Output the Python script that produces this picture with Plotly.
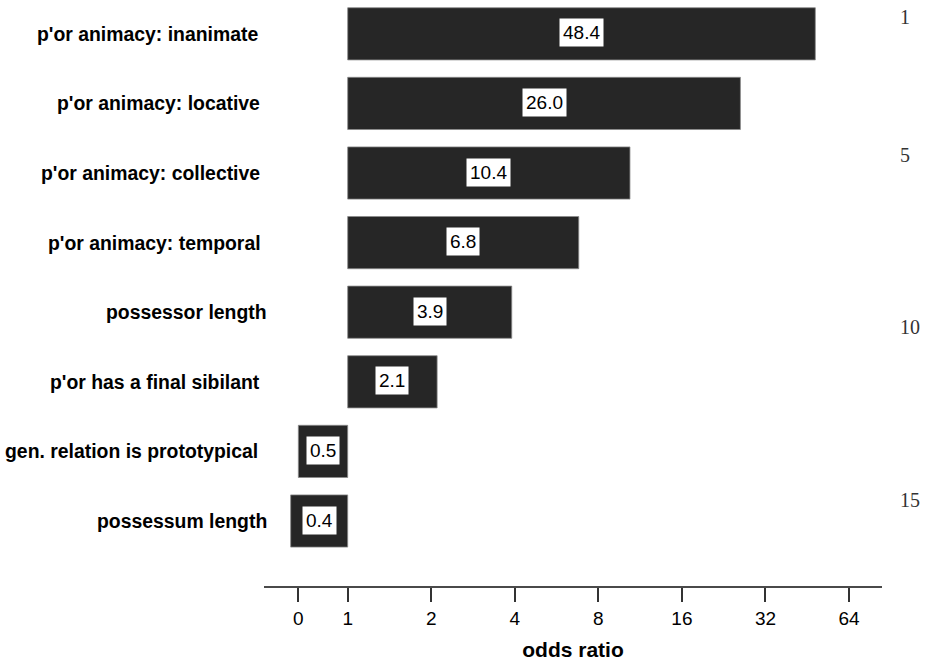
import numpy as np
import plotly.graph_objects as go

# ---- data ----
categories = [
    "p'or animacy: inanimate",
    "p'or animacy: locative",
    "p'or animacy: collective",
    "p'or animacy: temporal",
    "possessor length",
    "p'or has a final sibilant",
    "gen. relation is prototypical",
    "possessum length",
]
odds_ratio = [48.4, 26.0, 10.4, 6.8, 3.9, 2.1, 0.5, 0.4]          # printed values
bar_end_or = [48.4, 26.0, 10.4, 6.8, 3.9, 2.1, 0.664, 0.623]      # where bars end
tick_values = [0.664, 1, 2, 4, 8, 16, 32, 64]
tick_labels = ["0", "1", "2", "4", "8", "16", "32", "64"]
line_numbers = [1, 5, 10, 15]

# ---- style / layout ----
W, H = 928, 662
L, R, T, B = 264, 46, 0, 76
px_per_unit = 83.55
x_left = (264 - 347.7) / px_per_unit
x_right = x_left + (W - L - R) / px_per_unit
label_right_edge = [258.5, 260.5, 261, 262, 268.3, 260.7, 259.3, 268.3]  # pixel ends of category labels

SANS = "Liberation Sans, Arial, Helvetica, sans-serif"
SERIF = "Liberation Serif, DejaVu Serif, serif"
BAR = "#262626"

xpos = np.log2(np.array(bar_end_or))
ypos = np.arange(len(categories))

fig = go.Figure()
fig.add_trace(go.Bar(
    x=xpos, y=ypos, base=0, orientation="h", width=0.75,
    marker=dict(color=BAR, line=dict(color="#8a8a8a", width=0.8)),
    hoverinfo="skip", showlegend=False,
))

annotations = []
# value labels in white boxes, centred on bars
for xi, yi, v in zip(xpos, ypos, odds_ratio):
    annotations.append(dict(
        x=xi / 2, y=yi, xref="x", yref="y", text=f"{v:.1f}", showarrow=False,
        font=dict(family=SANS, size=19, color="black"),
        bgcolor="white", borderpad=3, xanchor="center", yanchor="middle", yshift=1,
    ))
# category labels
for yi, cat, edge in zip(ypos, categories, label_right_edge):
    annotations.append(dict(
        x=0, y=yi, xref="paper", yref="y", text=f"<b>{cat}</b>", showarrow=False,
        font=dict(family=SANS, size=19.4, color="black"),
        xanchor="right", yanchor="middle", xshift=edge - L + 1,
    ))
# line numbers in the right margin
plot_h = H - T - B
for n in line_numbers:
    ypix = 15.7 + (n - 1) * 34.53
    annotations.append(dict(
        x=(898 - L) / (W - L - R), y=1 - (ypix - T) / plot_h, xref="paper", yref="paper",
        text=str(n), showarrow=False, font=dict(family=SERIF, size=20, color="#333"),
        xanchor="left", yanchor="middle", yshift=-1,
    ))

fig.update_layout(
    width=W, height=H, margin=dict(l=L, r=R, t=T, b=B, pad=0),
    plot_bgcolor="white", paper_bgcolor="white",
    annotations=annotations,
    xaxis=dict(
        range=[x_left, x_right], showgrid=False, zeroline=False,
        showline=True, linecolor="#4a4a4a", linewidth=2,
        ticks="outside", ticklen=14, tickwidth=2, tickcolor="#333",
        tickvals=list(np.log2(tick_values)), ticktext=tick_labels,
        tickfont=dict(family=SANS, size=19, color="black"),
        title=dict(text="<b>odds ratio</b>", font=dict(family=SANS, size=21, color="black"), standoff=15),
    ),
    yaxis=dict(
        range=[len(categories) - 1 + 0.934, -0.486], showgrid=False, zeroline=False,
        showline=False, showticklabels=False, ticks="",
    ),
)

fig.write_html(
    "out.html",
    config={"displayModeBar": False},
    post_script="document.body.style.margin='0';document.body.style.overflow='hidden';",
)
